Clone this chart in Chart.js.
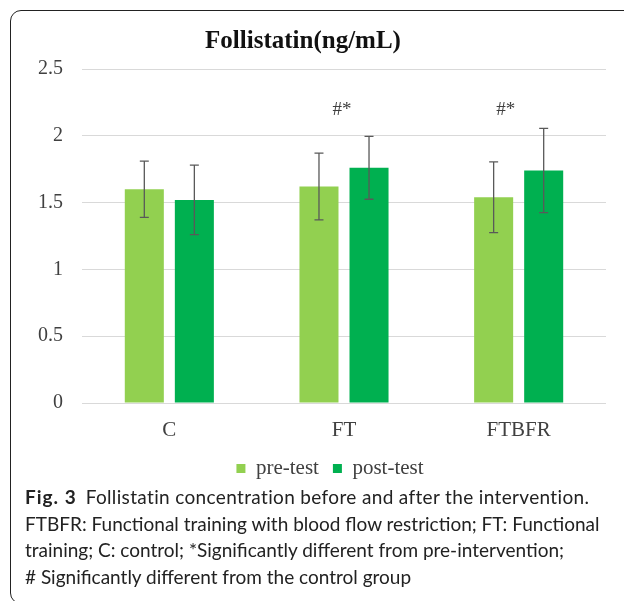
<!DOCTYPE html>
<html>
<head>
<meta charset="utf-8">
<script src="https://cdn.jsdelivr.net/npm/chart.js@4.4.0/dist/chart.umd.min.js"></script>
<style>
  html, body { margin: 0; padding: 0; background: #fff; overflow: hidden; }
  body { width: 624px; height: 601px; position: relative; }
  #frame {
    position: absolute; left: 10px; top: 10px;
    width: 700px; height: 594px; box-sizing: border-box;
    border: 1.5px solid #222; border-radius: 11px;
  }
  #wrap { position: absolute; left: 0; top: 0; width: 624px; height: 493px; }
  #caption {
    position: absolute; left: 25px; top: 484px; width: 599px;
    font-family: Lato, 'Noto Sans', sans-serif; font-size: 19px;
    line-height: 26.7px; color: #222; white-space: nowrap;
  }
  #caption b { font-weight: 700; letter-spacing: 1px; margin-right: 4px; }
  #caption .l1 { letter-spacing: 0.35px; }
</style>
</head>
<body>
<div id="frame"></div>
<div id="wrap"><canvas id="chart"></canvas></div>
<div id="caption">
  <b>Fig. 3</b> <span class="l1">Follistatin concentration before and after the intervention.</span><br>
  FTBFR: Functional training with blood flow restriction; FT: Functional<br>
  training; C: control; *Significantly different from pre-intervention;<br>
  # Significantly different from the control group
</div>
<script>
// data
const categories = ['C', 'FT', 'FTBFR'];
const preTest = [1.60, 1.62, 1.54];
const postTest = [1.52, 1.76, 1.74];
const preErr = [0.21, 0.25, 0.265];
const postErr = [0.26, 0.235, 0.315];
const sigMarks = ['', '#*', '#*'];
const yTicks = [0, 0.5, 1, 1.5, 2, 2.5];

const serif = "'Liberation Serif', 'Times New Roman', serif";

// error bars drawn from the value arrays
const errorBars = {
  id: 'errorBars',
  afterDatasetsDraw(chart) {
    const ctx = chart.ctx;
    const y = chart.scales.y;
    const errs = [preErr, postErr];
    ctx.save();
    ctx.strokeStyle = '#595959';
    ctx.lineWidth = 1.3;
    chart.data.datasets.forEach((ds, i) => {
      chart.getDatasetMeta(i).data.forEach((bar, j) => {
        const top = y.getPixelForValue(ds.data[j] + errs[i][j]);
        const bot = y.getPixelForValue(ds.data[j] - errs[i][j]);
        const x = bar.x;
        ctx.beginPath();
        ctx.moveTo(x, top); ctx.lineTo(x, bot);
        ctx.moveTo(x - 4.5, top); ctx.lineTo(x + 4.5, top);
        ctx.moveTo(x - 4.5, bot); ctx.lineTo(x + 4.5, bot);
        ctx.stroke();
      });
    });
    ctx.restore();
  }
};

// significance marks above groups
const sigLabels = {
  id: 'sigLabels',
  afterDatasetsDraw(chart) {
    const ctx = chart.ctx;
    const x = chart.scales.x, y = chart.scales.y;
    const shift = [0, -2, -13];
    ctx.save();
    ctx.fillStyle = '#404040';
    ctx.font = '19px ' + serif;
    ctx.textAlign = 'center';
    ctx.textBaseline = 'middle';
    sigMarks.forEach((m, j) => {
      if (!m) return;
      ctx.fillText(m, x.getPixelForValue(j) + shift[j], y.getPixelForValue(2.19));
    });
    ctx.restore();
  }
};

// legend sits a bit right of the canvas centre in the original
const legendShift = {
  id: 'legendShift',
  afterLayout(chart) {
    chart.legend.left += 27;
    chart.legend.right += 27;
  }
};

Chart.defaults.font.family = serif;
Chart.defaults.color = '#404040';

new Chart(document.getElementById('chart'), {
  type: 'bar',
  data: {
    labels: categories,
    datasets: [
      { label: 'pre-test', data: preTest, backgroundColor: '#92D050' },
      { label: 'post-test', data: postTest, backgroundColor: '#00B050' }
    ]
  },
  options: {
    responsive: true,
    maintainAspectRatio: false,
    animation: false,
    categoryPercentage: 0.573,
    barPercentage: 0.78,
    layout: { padding: { left: 0, right: 18, top: 0, bottom: 4 } },
    plugins: {
      title: {
        display: true,
        text: 'Follistatin(ng/mL)',
        color: '#111',
        font: { size: 25, weight: 'bold', family: serif },
        padding: { top: 27, bottom: 12 }
      },
      legend: {
        position: 'bottom',
        labels: {
          boxWidth: 9, boxHeight: 9, padding: 14,
          font: { size: 21, family: serif }, color: '#404040'
        }
      },
      tooltip: { enabled: false }
    },
    scales: {
      x: {
        grid: { display: false, drawTicks: false },
        border: { display: false },
        ticks: { padding: 15, font: { size: 21 } },
        afterFit: s => { s.height = 41; }
      },
      y: {
        min: 0, max: 2.5,
        afterBuildTicks: s => { s.ticks = yTicks.map(v => ({ value: v })); },
        ticks: { padding: 19, font: { size: 20 }, callback: v => String(v) },
        grid: { color: '#d9d9d9', drawTicks: false, lineWidth: 1 },
        border: { display: false },
        afterFit: s => { s.width = 82; }
      }
    }
  },
  plugins: [errorBars, sigLabels, legendShift]
});
</script>
</body>
</html>
